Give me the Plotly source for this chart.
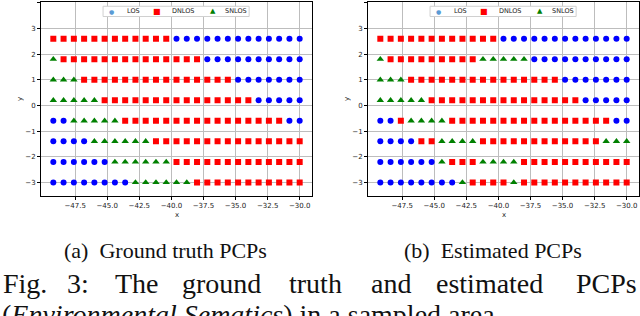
import plotly.graph_objects as go

# ---- data ----
x_vals = [-49.2, -48.4, -47.6, -46.8, -46.0, -45.2, -44.4, -43.6, -42.8, -42.0,
          -41.2, -40.4, -39.6, -38.8, -38.0, -37.2, -36.4, -35.6, -34.8, -34.0,
          -33.2, -32.4, -31.6, -30.8, -30.0]
y_vals = [2.6, 1.8, 1.0, 0.2, -0.6, -1.4, -2.2, -3.0]

# L = LOS, D = DNLOS, S = SNLOS  (one string per row, left to right)
ground_truth_rows = [
    "DDDDDDDDDDDDLLLLLLLLLLLLL",
    "SDDDDDDDDDDDDDDLLLLLLLLLL",
    "SSSDDDDDDDDDDDDDDDLLLLLLL",
    "SSSSSDDDDDDDDDDDDDDDLLLLL",
    "LLSSSSSDDDDDDDDDDDDDDDDLL",
    "LLLLSSSSSSDDDDDDDDDDDDDDD",
    "LLLLLLSSSSSSDDDDDDDDDDDDD",
    "LLLLLLLLSSSSSSDDDDDDDDDDD",
]
estimated_rows = [
    "DDDDDDDDDDDDLLLLLLLLLLLLL",
    "SDDDDDDDDDSSSSSLLLLLLLLLL",
    "SSSDDDDDDDDDDDDDDDLLLLLLL",
    "SSSSSDDDDDDDDDDDDDDDLLLLL",
    "LLDSSSSDDDDDDDDDDDDDDDDLL",
    "LLLLDDSSSSDDDDDDDDDDDDSSS",
    "LLLLLLSDDDSSSSDDDDDDDDDDD",
    "LLLLLLLLSDDDDSDDDDDDDDDDD",
]
for r in ground_truth_rows + estimated_rows:
    assert len(r) == 25, r

classes = ["L", "D", "S"]
class_names = {"L": "LOS", "D": "DNLOS", "S": "SNLOS"}
class_colors = {"L": "#0000ff", "D": "#ff0000", "S": "#008000"}
legend_colors = {"L": "#5b9bd5", "D": "#ff0000", "S": "#008000"}
class_symbols = {"L": "circle", "D": "square", "S": "triangle-up"}
legend_glyphs = {"L": "\u25CF", "D": "\u25A0", "S": "\u25B2"}
legend_glyph_sizes = {"L": 6, "D": 8, "S": 7}
class_sizes = {"L": 6, "D": 6, "S": 6.5}

x_ticks = [-47.5, -45.0, -42.5, -40.0, -37.5, -35.0, -32.5, -30.0]
y_ticks = [-3, -2, -1, 0, 1, 2, 3, 4]

W, H = 640, 316
def px(x): return x / W
def py(y): return 1 - y / H

fig = go.Figure()

panels = [(ground_truth_rows, "x", "y"), (estimated_rows, "x2", "y2")]
for rows, xa, ya in panels:
    for c in classes:
        xs, ys = [], []
        for yi, row in zip(y_vals, rows):
            for xi, ch in zip(x_vals, row):
                if ch == c:
                    xs.append(xi); ys.append(yi)
        fig.add_trace(go.Scatter(x=xs, y=ys, mode="markers", xaxis=xa, yaxis=ya,
                                 marker=dict(color=class_colors[c], symbol=class_symbols[c],
                                             size=class_sizes[c], line=dict(width=0)),
                                 showlegend=False, name=class_names[c]))

axis_common = dict(showline=True, linecolor="black", linewidth=1, mirror=True,
                   ticks="outside", ticklen=3, tickwidth=1, tickcolor="black",
                   tickfont=dict(family="DejaVu Sans", size=7, color="#222"),
                   showgrid=True, gridcolor="#bdbdbd", gridwidth=1, zeroline=False)

ydom = [py(195.5), py(2)]
yrange = [-3.51, 4.03]
fig.update_layout(
    width=W, height=H, margin=dict(l=0, r=0, t=0, b=0),
    paper_bgcolor="white", plot_bgcolor="white", showlegend=False,
    xaxis=dict(domain=[px(41), px(312)], range=[-50.16, -29.04], tickvals=x_ticks,
               tickformat=".1f", anchor="y", **axis_common),
    yaxis=dict(domain=ydom, range=yrange, tickvals=y_ticks, anchor="x", **axis_common),
    xaxis2=dict(domain=[px(368), px(639)], range=[-50.16, -29.04], tickvals=x_ticks,
                tickformat=".1f", anchor="y2", **axis_common),
    yaxis2=dict(domain=ydom, range=yrange, tickvals=y_ticks, anchor="x2", **axis_common),
)

ann = []
shapes = []
small = dict(family="DejaVu Sans", size=6.5, color="#222")

# legend box per panel (positions as fractions of the axes area)
legend_glyph_x = {"L": 0.261, "D": 0.427, "S": 0.634}
legend_text_x = {"L": 0.310, "D": 0.476, "S": 0.672}
for xa, ya in [("x", "y"), ("x2", "y2")]:
    shapes.append(dict(type="rect", xref=xa + " domain", yref=ya + " domain",
                       x0=0.229, x1=0.768, y0=0.925, y1=0.978, layer="above",
                       fillcolor="white", line=dict(color="#d0d0d0", width=1)))
    for c in classes:
        ann.append(dict(text=legend_glyphs[c], xref=xa + " domain", yref=ya + " domain",
                        x=legend_glyph_x[c], y=0.951, xanchor="center", yanchor="middle",
                        showarrow=False,
                        font=dict(family="DejaVu Sans", size=legend_glyph_sizes[c],
                                  color=legend_colors[c])))
        ann.append(dict(text=class_names[c], xref=xa + " domain", yref=ya + " domain",
                        x=legend_text_x[c], y=0.951, xanchor="left", yanchor="middle",
                        showarrow=False, font=small))

# axis labels
for cx in [176.5, 503.5]:
    ann.append(dict(text="x", x=px(cx), y=py(215), xref="paper", yref="paper",
                    xanchor="center", yanchor="middle",
                    showarrow=False, font=dict(family="DejaVu Sans", size=7, color="#222")))
for cx in [20, 347]:
    ann.append(dict(text="y", x=px(cx), y=py(99), xref="paper", yref="paper", textangle=-90,
                    xanchor="center", yanchor="middle",
                    showarrow=False, font=dict(family="DejaVu Sans", size=7, color="#222")))

serif = "Liberation Serif"
ann.append(dict(text="(a)  Ground truth PCPs", x=px(165.5), y=py(250), xref="paper", yref="paper",
                xanchor="center", yanchor="middle",
                showarrow=False, font=dict(family=serif, size=22, color="#111")))
ann.append(dict(text="(b)  Estimated PCPs", x=px(493), y=py(250), xref="paper", yref="paper",
                xanchor="center", yanchor="middle",
                showarrow=False, font=dict(family=serif, size=22, color="#111")))

words = [("Fig.", 1), ("3:", 65), ("The", 113), ("ground", 180), ("truth", 287),
         ("and", 369), ("estimated", 434), ("PCPs", 574)]
for w, wx in words:
    ann.append(dict(text=w, x=px(wx), y=py(283), xref="paper", yref="paper", xanchor="left",
                    yanchor="middle", showarrow=False, font=dict(family=serif, size=28, color="#111")))
ann.append(dict(text="(<i>Environmental Sematics</i>) in a sampled area", x=px(0), y=py(314),
                xref="paper", yref="paper", xanchor="left", yanchor="middle", showarrow=False,
                font=dict(family=serif, size=28, color="#111")))
fig.update_layout(annotations=ann, shapes=shapes)

fig.write_html("out.html", config={"displayModeBar": False},
               post_script="document.body.style.margin='0';document.body.style.overflow='hidden';")
